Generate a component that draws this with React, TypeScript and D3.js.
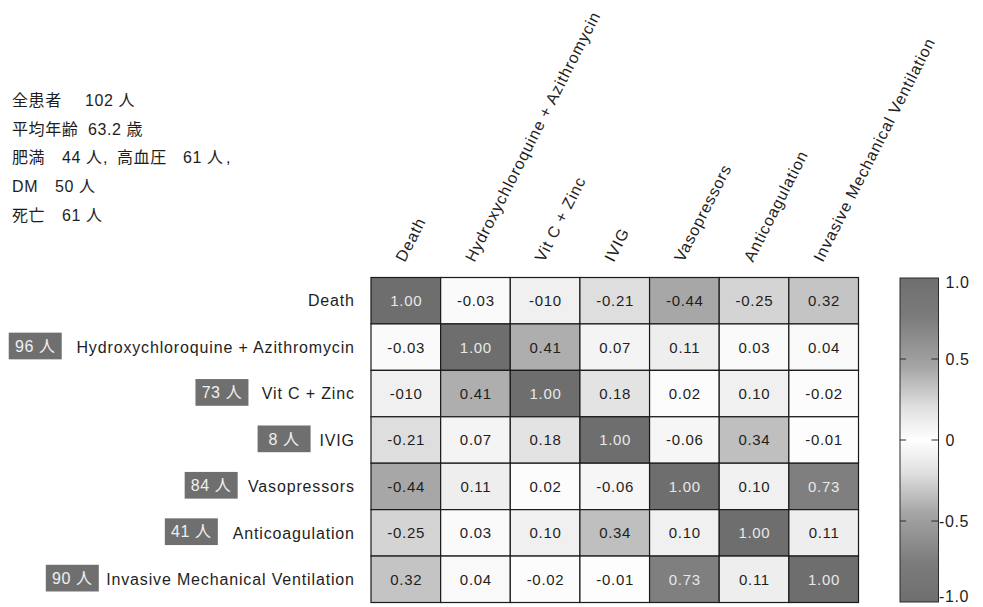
import React from 'react';
import * as d3 from 'd3';

// ---------- data ----------
const variables = [
  'Death',
  'Hydroxychloroquine + Azithromycin',
  'Vit C + Zinc',
  'IVIG',
  'Vasopressors',
  'Anticoagulation',
  'Invasive Mechanical Ventilation',
];
const patientCounts: (number | null)[] = [null, 96, 73, 8, 84, 41, 90];

const rDeath = [1.0, -0.03, -0.1, -0.21, -0.44, -0.25, 0.32];
const rHcqAzm = [-0.03, 1.0, 0.41, 0.07, 0.11, 0.03, 0.04];
const rVitCZinc = [-0.1, 0.41, 1.0, 0.18, 0.02, 0.1, -0.02];
const rIvig = [-0.21, 0.07, 0.18, 1.0, -0.06, 0.34, -0.01];
const rVaso = [-0.44, 0.11, 0.02, -0.06, 1.0, 0.1, 0.73];
const rAnticoag = [-0.25, 0.03, 0.1, 0.34, 0.1, 1.0, 0.11];
const rImv = [0.32, 0.04, -0.02, -0.01, 0.73, 0.11, 1.0];
const corr = [rDeath, rHcqAzm, rVitCZinc, rIvig, rVaso, rAnticoag, rImv];

// labels printed differently in the original figure (row-col)
const printedOverrides: Record<string, string> = { '0-2': '-010', '2-0': '-010' };

const colorbarTicks = [1, 0.5, 0, -0.5, -1];
const colorbarTickLabels = ['1.0', '0.5', '0', '-0.5', '-1.0'];

const summaryLines: string[][] = [
  ['全患者', '102 人'],
  ['平均年齢', '63.2 歳'],
  ['肥満', '44 人', ',', '高血圧', '61 人', ','],
  ['DM', '50 人'],
  ['死亡', '61 人'],
];

// ---------- layout ----------
const W = 983;
const H = 607;
const FONT = '"Liberation Sans", Arial, Helvetica, "Noto Sans CJK JP", sans-serif';
const summaryX = [
  [12, 85],
  [12, 88],
  [12, 62, 103, 117, 183, 226],
  [12, 55],
  [12, 62],
];
const summaryBaseline0 = 106;
const summaryStep = 28.7;
const badgeGaps = [0, 13, 12.5, 8, 9.5, 14, 6.5];
const LS = 0.85;

function measure(text: string, size: number, ls: number) {
  const c = document.createElement('canvas').getContext('2d');
  if (!c) return text.length * size * 0.55;
  c.font = `${size}px "Liberation Sans", Arial, sans-serif`;
  return c.measureText(text).width + ls * text.length;
}

const fmt2 = d3.formatLocale({
  decimal: '.',
  thousands: ',',
  grouping: [3],
  currency: ['', ''],
  minus: '-',
}).format('.2f');

export default function App() {
  const x = d3.scaleBand<string>().domain(variables).range([371, 858.5]).padding(0);
  const y = d3.scaleBand<string>().domain(variables).range([277.5, 602.5]).padding(0);
  const bw = x.bandwidth();
  const bh = y.bandwidth();

  const grayLevel = d3
    .scaleLinear<number>()
    .domain([0, 0.2, 0.45, 0.75, 1])
    .range([255, 224, 165, 124, 110])
    .clamp(true);
  const color = (v: number) => {
    const g = Math.round(grayLevel(Math.abs(v)));
    return d3.rgb(g, g, g).formatHex();
  };

  const cb = d3.scaleLinear().domain([-1, 1]).range([602, 278]);
  const cbX0 = 900;
  const cbX1 = 938.5;
  const gradStops = d3.range(0, 41).map((i) => {
    const v = 1 - i * 0.05;
    return { offset: (i / 40) * 100, color: color(v) };
  });

  const labelRight = 354;

  return (
    <svg
      width={W}
      height={H}
      style={{ position: 'absolute', left: 0, top: 0, background: '#fff' }}
      fontFamily={FONT}
    >
      <defs>
        <linearGradient id="cbgrad" x1="0" y1="0" x2="0" y2="1">
          {gradStops.map((s, i) => (
            <stop key={i} offset={`${s.offset}%`} stopColor={s.color} />
          ))}
        </linearGradient>
      </defs>

      {/* summary block */}
      {summaryLines.map((line, li) => (
        <text
          key={li}
          y={summaryBaseline0 + li * summaryStep}
          fontSize={16}
          fill="#1e1e1e"
          letterSpacing={0.6}
        >
          {line.map((seg, si) => (
            <tspan key={si} x={summaryX[li][si]}>
              {seg}
            </tspan>
          ))}
        </text>
      ))}

      {/* column labels */}
      {variables.map((v) => (
        <text
          key={v}
          transform={`translate(${(x(v) as number) + bw / 2 - 1},${263}) rotate(-63)`}
          fontSize={16}
          letterSpacing={LS}
          fill="#1e1e1e"
        >
          {v}
        </text>
      ))}

      {/* row labels + badges */}
      {variables.map((v, i) => {
        const cy = (y(v) as number) + bh / 2;
        const tw = measure(v, 16, LS);
        const start = labelRight - tw;
        const count = patientCounts[i];
        const bwid = 53;
        const bx = start - badgeGaps[i] - bwid;
        return (
          <g key={v}>
            <text
              x={labelRight + LS}
              y={cy}
              dy="0.36em"
              textAnchor="end"
              fontSize={16}
              letterSpacing={LS}
              fill="#1e1e1e"
            >
              {v}
            </text>
            {count !== null && (
              <g>
                <rect x={bx} y={cy - 14.5} width={bwid} height={26.7} fill="#6f6f6f" />
                <text
                  x={bx + bwid / 2}
                  y={cy - 1.2}
                  dy="0.36em"
                  textAnchor="middle"
                  fontSize={16}
                  letterSpacing={0.6}
                  fill="#f0f0f0"
                >
                  {`${count} 人`}
                </text>
              </g>
            )}
          </g>
        );
      })}

      {/* heatmap cells */}
      {corr.map((row, ri) =>
        row.map((val, ci) => {
          const cx = x(variables[ci]) as number;
          const cy = y(variables[ri]) as number;
          const key = `${ri}-${ci}`;
          const label = printedOverrides[key] ?? fmt2(val);
          const dark = Math.abs(val) >= 0.6;
          return (
            <g key={key}>
              <rect
                x={cx}
                y={cy}
                width={bw}
                height={bh}
                fill={color(val)}
                stroke="#1a1a1a"
                strokeWidth={1.2}
              />
              <text
                x={cx + bw / 2 + 0.4}
                y={cy + bh / 2}
                dy="0.36em"
                textAnchor="middle"
                fontSize={15}
                letterSpacing={0.7}
                fill={dark ? '#e8e8e8' : '#1e1e1e'}
              >
                {label}
              </text>
            </g>
          );
        })
      )}

      {/* colorbar */}
      <rect
        x={cbX0}
        y={cb(1)}
        width={cbX1 - cbX0}
        height={cb(-1) - cb(1)}
        fill="url(#cbgrad)"
        stroke="#2a2a2a"
        strokeWidth={1}
      />
      {colorbarTicks.map((t, i) => {
        const ty = cb(t);
        const inner = Math.abs(t) < 1;
        return (
          <g key={t}>
            {inner && (
              <>
                <line x1={cbX0} x2={cbX0 + 6} y1={ty} y2={ty} stroke="#2a2a2a" strokeWidth={1} />
                <line x1={cbX1 - 7} x2={cbX1} y1={ty} y2={ty} stroke="#2a2a2a" strokeWidth={1} />
              </>
            )}
            <text
              x={t < 0 ? cbX1 + 0.5 : cbX1 + 7}
              y={Math.min(Math.max(ty, 282), 596)}
              dy="0.36em"
              fontSize={16}
              letterSpacing={0.6}
              fill="#1e1e1e"
            >
              {colorbarTickLabels[i]}
            </text>
          </g>
        );
      })}
    </svg>
  );
}
